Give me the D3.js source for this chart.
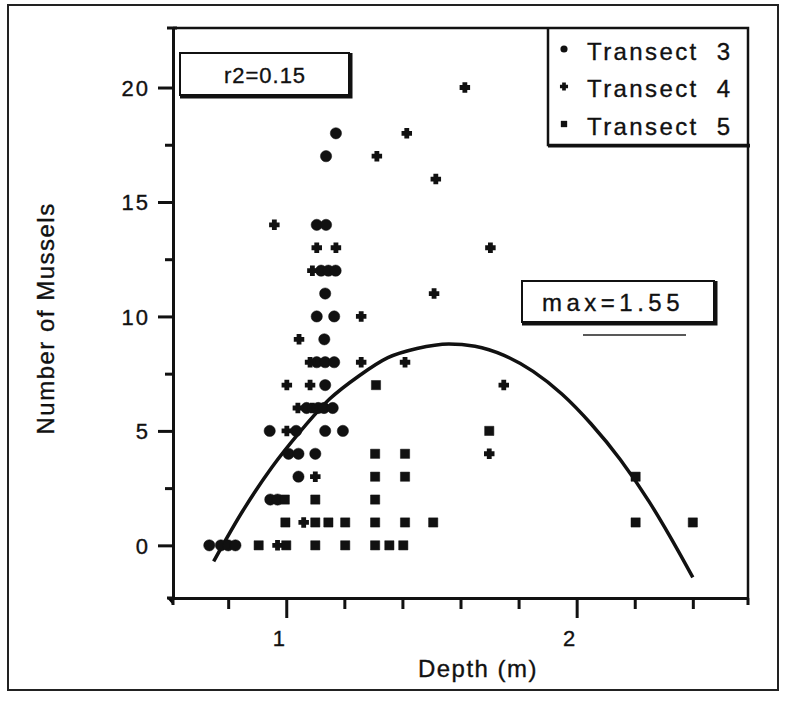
<!DOCTYPE html>
<html>
<head>
<meta charset="utf-8">
<script src="https://cdn.jsdelivr.net/npm/d3@7"></script>
<style>
  body { margin: 0; background: #fff; }
  svg text { font-family: "Liberation Sans", Arial, Helvetica, sans-serif; fill: #111; stroke: #111; stroke-width: 0.35; }
</style>
</head>
<body>
<div id="chart"></div>
<script>
// [depth (m), number of mussels]
const transect3 = [
  [0.735, 0], [0.775, 0], [0.80, 0], [0.825, 0],
  [0.945, 2], [0.97, 2],
  [1.042, 3],
  [1.008, 4], [1.042, 4], [1.10, 4],
  [0.943, 5], [1.034, 5], [1.134, 5], [1.195, 5],
  [1.07, 6], [1.11, 6], [1.13, 6], [1.16, 6],
  [1.134, 7],
  [1.105, 8], [1.134, 8], [1.165, 8],
  [1.131, 9],
  [1.105, 10], [1.165, 10],
  [1.134, 11],
  [1.12, 12], [1.145, 12], [1.17, 12],
  [1.105, 14], [1.137, 14],
  [1.137, 17],
  [1.171, 18]
];
const transect4 = [
  [0.97, 0], [1.06, 1], [1.10, 3], [1.699, 4], [1.002, 5],
  [1.04, 6], [1.09, 6],
  [1.002, 7], [1.082, 7], [1.749, 7],
  [1.082, 8], [1.258, 8], [1.409, 8],
  [1.044, 9], [1.258, 10], [1.509, 11], [1.09, 12],
  [1.105, 13], [1.171, 13], [1.703, 13],
  [0.959, 14], [1.515, 16], [1.312, 17], [1.415, 18], [1.615, 20]
];
const transect5 = [
  [0.905, 0], [1.0, 0], [1.10, 0], [1.203, 0], [1.306, 0], [1.355, 0], [1.403, 0],
  [0.997, 1], [1.10, 1], [1.145, 1], [1.203, 1], [1.306, 1], [1.409, 1], [1.506, 1], [2.203, 1], [2.40, 1],
  [0.995, 2], [1.10, 2], [1.306, 2],
  [1.306, 3], [1.409, 3], [2.203, 3],
  [1.306, 4], [1.409, 4],
  [1.699, 5],
  [1.309, 7]
];
// fitted curve, points
const fitDepth = [0.75, 0.85, 0.95, 1.05, 1.15, 1.25, 1.35, 1.45, 1.56, 1.65, 1.75, 1.85, 1.95, 2.05, 2.15, 2.25, 2.35, 2.40];
const fitCount = [-0.7, 1.5, 3.4, 5.0, 6.4, 7.4, 8.2, 8.6, 8.8, 8.7, 8.3, 7.6, 6.6, 5.3, 3.75, 1.9, -0.25, -1.4];

const yMajor = [0, 5, 10, 15, 20];
const yMinor = [2.5, 7.5, 12.5, 17.5];
const xMajor = [1, 2];
const xMinor = [0.8, 1.2, 1.4, 1.6, 1.8, 2.2, 2.4];
const legendLabels = ["Transect  3", "Transect  4", "Transect  5"];

const W = 786, H = 714;
const svg = d3.select("#chart").append("svg")
  .attr("width", W).attr("height", H);

const x = d3.scaleLinear().domain([0.61, 2.59]).range([173, 748]);
const y = d3.scaleLinear().domain([-2.3, 22.6]).range([598, 28]);

// outer frame
svg.append("rect")
  .attr("x", 8).attr("y", 5).attr("width", 770).attr("height", 685)
  .attr("fill", "none").attr("stroke", "#222").attr("stroke-width", 2);

// plot frame (top and right)
svg.append("path")
  .attr("d", `M${x.range()[0]},${y.range()[1]}H${x.range()[1]}V${y.range()[0]}`)
  .attr("fill", "none").attr("stroke", "#111").attr("stroke-width", 2.5);

// axes
function styleAxis(g) {
  g.selectAll("path.domain").attr("stroke", "#111").attr("stroke-width", 3);
  g.selectAll(".tick line").attr("stroke", "#111").attr("stroke-width", 3);
  g.selectAll(".tick text").attr("font-size", 22).attr("letter-spacing", 2).attr("fill", "#111");
}

svg.append("g")
  .attr("transform", `translate(${x.range()[0]},0)`)
  .call(d3.axisLeft(y).tickValues(yMajor).tickSize(15).tickSizeOuter(0).tickPadding(8))
  .call(styleAxis)
  .call(g => g.selectAll(".tick text").attr("dy", "0.36em"));

svg.append("g")
  .attr("transform", `translate(${x.range()[0]},0)`)
  .call(d3.axisLeft(y).tickValues(yMinor).tickSize(8).tickSizeOuter(0).tickFormat(""))
  .call(styleAxis);

svg.append("g")
  .attr("transform", `translate(0,${y.range()[0]})`)
  .call(d3.axisBottom(x).tickValues(xMajor).tickSize(20).tickSizeOuter(0).tickPadding(12).tickFormat(d3.format("d")))
  .call(styleAxis)
  .call(g => g.selectAll(".tick text").attr("dx", -7));

svg.append("g")
  .attr("transform", `translate(0,${y.range()[0]})`)
  .call(d3.axisBottom(x).tickValues(xMinor).tickSize(11).tickSizeOuter(0).tickFormat(""))
  .call(styleAxis);

// little caps at the axis ends
svg.append("path")
  .attr("d", `M${x.range()[0] - 6},${y.range()[1]}H${x.range()[0] + 4}` +
             `M${x.range()[0] - 6},${y.range()[0]}H${x.range()[0]}V${y.range()[0] + 7}` +
             `M${x.range()[1]},${y.range()[0]}V${y.range()[0] + 7}`)
  .attr("stroke", "#111").attr("stroke-width", 3);

// axis titles
svg.append("text")
  .attr("transform", `translate(54,${y(10) + 2}) rotate(-90)`)
  .attr("text-anchor", "middle")
  .attr("font-size", 24)
  .attr("letter-spacing", 1.5)
  .text("Number of Mussels");

svg.append("text")
  .attr("x", 478).attr("y", 677)
  .attr("text-anchor", "middle")
  .attr("font-size", 24)
  .attr("letter-spacing", 1.5)
  .text("Depth (m)");

// fitted curve
svg.append("path")
  .datum(d3.zip(fitDepth, fitCount))
  .attr("fill", "none").attr("stroke", "#111").attr("stroke-width", 3.5)
  .attr("stroke-linejoin", "round")
  .attr("d", d3.line().x(d => x(d[0])).y(d => y(d[1])).curve(d3.curveMonotoneX));

// points
const series = [
  { data: transect3, sym: d3.symbol(d3.symbolCircle, 100), legendSym: d3.symbol(d3.symbolCircle, 40), sw: 0.5 },
  { data: transect4, sym: d3.symbol(d3.symbolCross, 40), legendSym: d3.symbol(d3.symbolCross, 24), sw: 2 },
  { data: transect5, sym: d3.symbol(d3.symbolSquare, 85), legendSym: d3.symbol(d3.symbolSquare, 40), sw: 0.5 }
];

series.forEach(s => {
  svg.append("g").selectAll("path")
    .data(s.data)
    .enter().append("path")
    .attr("transform", d => `translate(${x(d[0])},${y(d[1])})`)
    .attr("d", s.sym)
    .attr("fill", "#111")
    .attr("stroke", "#111")
    .attr("stroke-width", s.sw);
});

// boxes with a drop shadow on the bottom and right
function shadowBox(x0, y0, x1, y1) {
  svg.append("rect")
    .attr("x", x0).attr("y", y0).attr("width", x1 - x0).attr("height", y1 - y0)
    .attr("fill", "#fff").attr("stroke", "#111").attr("stroke-width", 2);
  svg.append("path")
    .attr("d", `M${x0},${y1 + 1.5}H${x1 + 1.5}V${y0}`)
    .attr("fill", "none").attr("stroke", "#111").attr("stroke-width", 4);
}

shadowBox(180, 53, 349, 95);
svg.append("text")
  .attr("x", 265).attr("y", 75).attr("dy", "0.36em")
  .attr("text-anchor", "middle").attr("font-size", 22).attr("letter-spacing", 1)
  .text("r2=0.15");

shadowBox(522, 281, 714, 322);
svg.append("text")
  .attr("x", 613).attr("y", 302).attr("dy", "0.36em")
  .attr("text-anchor", "middle").attr("font-size", 24).attr("letter-spacing", 4.5)
  .text("max=1.55");
svg.append("line")
  .attr("x1", 583).attr("x2", 686).attr("y1", 335).attr("y2", 335)
  .attr("stroke", "#222").attr("stroke-width", 1.5);

// legend
svg.append("path")
  .attr("d", `M548,28V145H750`)
  .attr("fill", "none").attr("stroke", "#111").attr("stroke-width", 2.5);
svg.append("line")
  .attr("x1", 548).attr("x2", 750).attr("y1", 146.5).attr("y2", 146.5)
  .attr("stroke", "#111").attr("stroke-width", 2);

const legend = svg.append("g").selectAll("g")
  .data(legendLabels)
  .enter().append("g")
  .attr("transform", (d, i) => `translate(0,${51 + i * 37.5})`);

legend.append("path")
  .attr("transform", "translate(564,-2)")
  .attr("d", (d, i) => series[i].legendSym())
  .attr("fill", "#111")
  .attr("stroke", "#111")
  .attr("stroke-width", (d, i) => i === 1 ? 1.5 : 0);

legend.append("text")
  .attr("x", 587).attr("dy", "0.36em")
  .attr("font-size", 24).attr("letter-spacing", 2.4)
  .style("white-space", "pre")
  .text(d => d);
</script>
</body>
</html>
